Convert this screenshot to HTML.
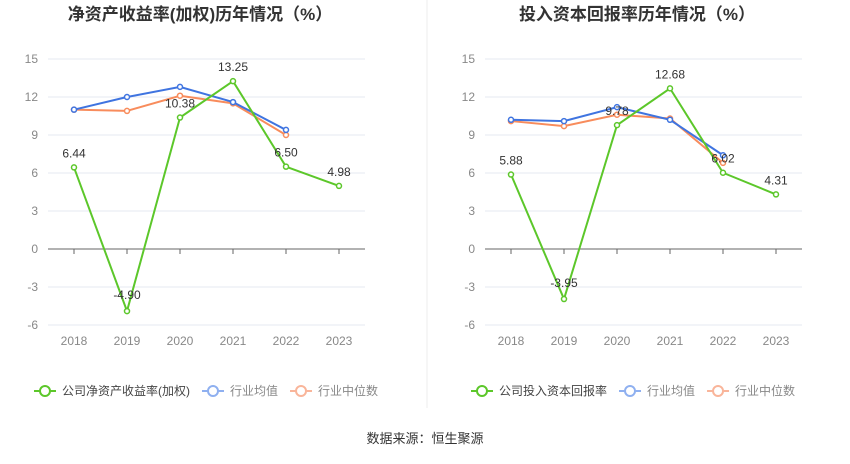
<!DOCTYPE html>
<html><head><meta charset="utf-8">
<style>
body{margin:0;background:#fff;width:850px;height:459px;overflow:hidden;font-family:"Liberation Sans","Noto Sans CJK SC",sans-serif;}
svg text{font-family:"Liberation Sans","Noto Sans CJK SC",sans-serif;}
</style></head>
<body>
<svg id="c" width="850" height="459">
<line x1="427" y1="0" x2="427" y2="408" stroke="#eee"/>
<text x="425" y="443" text-anchor="middle" font-size="13" fill="#333">数据来源：恒生聚源</text>
</svg>
<script>
const categories=["2018","2019","2020","2021","2022","2023"];
const yTicks=[15,12,9,6,3,0,-3,-6];
const leftCompany=[6.44,-4.90,10.38,13.25,6.50,4.98];
const leftAvg=[11.0,12.0,12.8,11.6,9.4];
const leftMedian=[11.0,10.9,12.1,11.5,9.0];
const rightCompany=[5.88,-3.95,9.78,12.68,6.02,4.31];
const rightAvg=[10.2,10.1,11.2,10.2,7.4];
const rightMedian=[10.1,9.7,10.6,10.3,6.8];
const svg=document.getElementById('c');
const NS='http://www.w3.org/2000/svg';
function mk(tag,attrs,parent){const e=document.createElementNS(NS,tag);for(const k in attrs)e.setAttribute(k,attrs[k]);(parent||svg).appendChild(e);return e;}
function chart(x0,title,legendName,company,avg,median,prefix){
  const g=mk('g',{});
  
  
  const left=x0+48,right=x0+365,step=53;
  const xs=i=>x0+74+i*step;
  const ys=v=>249-v*(38/3);
  const t=mk('text',{x:x0+200,y:20,'text-anchor':'middle','font-size':17,'font-weight':'bold',fill:'#333'},g);
  t.textContent=title;
  
  
  yTicks.forEach(v=>{
    const l=mk('line',{x1:left,x2:right,y1:ys(v),y2:ys(v),stroke:v===0?'#666':'#e6e8f0','stroke-width':1},g);
    
    
    const tx=mk('text',{x:x0+38,y:ys(v)+4,'text-anchor':'end','font-size':12,fill:'#888'},g);
    tx.textContent=v;
    
    
  });
  categories.forEach((c,i)=>{
    const tk=mk('line',{x1:xs(i),x2:xs(i),y1:249,y2:254,stroke:'#666'},g);
    
    
    const tx=mk('text',{x:xs(i),y:345,'text-anchor':'middle','font-size':12,fill:'#888'},g);
    tx.textContent=c;
    
    
  });
  function series(data,color,name){
    const p=mk('polyline',{points:data.map((v,i)=>xs(i)+','+ys(v)).join(' '),fill:'none',stroke:color,'stroke-width':2},g);
    
    
    data.forEach((v,i)=>{
      const c=mk('circle',{cx:xs(i),cy:ys(v),r:2.5,fill:'#fff',stroke:color,'stroke-width':1.5},g);
      
      
    });
  }
  series(median,'#f88c5c','median');
  series(avg,'#3f74e0','average');
  series(company,'#5cc72a','company');
  company.forEach((v,i)=>{
    const tx=mk('text',{x:xs(i),y:ys(v)+(v<0?-12:-10),'text-anchor':'middle','font-size':12,fill:'#333'},g);
    tx.textContent=v.toFixed(2);
    
    
  });
  // legend
  const items=[[legendName,'#5cc72a','#444'],['行业均值','#8fb0f0','#888'],['行业中位数','#f9b59a','#888']];
  let lx=x0+34;
  items.forEach(([n,col,tc])=>{
    const lg=mk('g',{},g);
    
    
    mk('line',{x1:lx,x2:lx+22,y1:391,y2:391,stroke:col,'stroke-width':2},lg);
    mk('circle',{cx:lx+11,cy:391,r:5,fill:'#fff',stroke:col,'stroke-width':2},lg);
    const tx=mk('text',{x:lx+28,y:395,'font-size':12,fill:tc},lg);
    tx.textContent=n;
    lx+=28+tx.getComputedTextLength()+12;
  });
}
chart(0,'净资产收益率(加权)历年情况（%）','公司净资产收益率(加权)',leftCompany,leftAvg,leftMedian,'left');
chart(437,'投入资本回报率历年情况（%）','公司投入资本回报率',rightCompany,rightAvg,rightMedian,'right');
</script>
</body></html>
